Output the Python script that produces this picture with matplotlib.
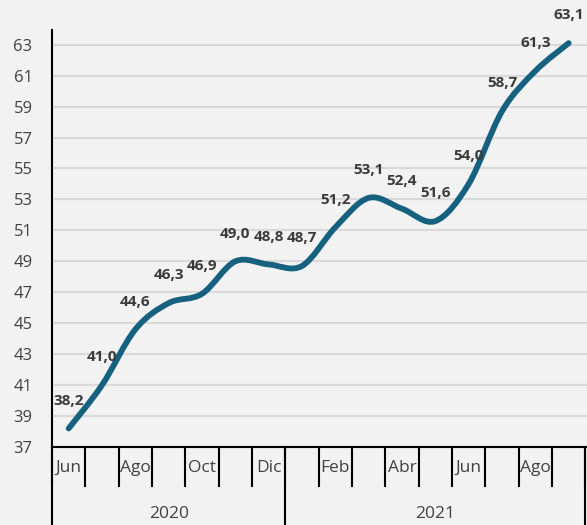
import matplotlib
matplotlib.use("Agg")
import matplotlib.pyplot as plt
import numpy as np
from matplotlib.path import Path
from matplotlib.patches import PathPatch
from matplotlib.lines import Line2D

plt.rcParams['font.family'] = ['Open Sans', 'DejaVu Sans']

# data
months = ['Jun', 'Jul', 'Ago', 'Sep', 'Oct', 'Nov', 'Dic',
          'Ene', 'Feb', 'Mar', 'Abr', 'May', 'Jun', 'Jul', 'Ago', 'Sep']
years = ['2020', '2021']
year_counts = [7, 9]
values = [38.2, 41.0, 44.6, 46.3, 46.9, 49.0, 48.8, 48.7,
          51.2, 53.1, 52.4, 51.6, 54.0, 58.7, 61.3, 63.1]
yticks = list(range(37, 64, 2))

BG = '#f2f2f2'
LINE = '#16617f'
TXT = '#404040'

fig = plt.figure(figsize=(5.87, 5.25), dpi=100, facecolor=BG)
ax = fig.add_axes([52 / 587, 1 - 447 / 525, 1 - 52 / 587, (447 - 30) / 525])
ax.set_facecolor(BG)

n = len(values)
x = np.arange(n)
y = np.array(values)

# smoothed line (bezier, like excel smoothing)
verts = [(x[0], y[0])]
codes = [Path.MOVETO]
for i in range(n - 1):
    p0 = np.array([x[max(i - 1, 0)], y[max(i - 1, 0)]])
    p1 = np.array([x[i], y[i]])
    p2 = np.array([x[i + 1], y[i + 1]])
    p3 = np.array([x[min(i + 2, n - 1)], y[min(i + 2, n - 1)]])
    c1 = p1 + (p2 - p0) / 6
    c2 = p2 - (p3 - p1) / 6
    verts += [tuple(c1), tuple(c2), tuple(p2)]
    codes += [Path.CURVE4] * 3
patch = PathPatch(Path(verts, codes), facecolor='none', edgecolor=LINE,
                  lw=4.2, capstyle='round', joinstyle='round', zorder=3)
ax.add_patch(patch)

for xi, v in zip(x, values):
    ax.annotate(f'{v:.1f}'.replace('.', ','), (xi, v), xytext=(0, 20),
                textcoords='offset points', ha='center', va='center',
                fontsize=11, fontweight='bold', color='#3a3a3a', zorder=4)

ax.set_xlim(-0.5, n - 0.45)
ax.set_ylim(37, 63.95)
ax.set_yticks(yticks)
ax.set_yticklabels([str(t) for t in yticks])
ax.tick_params(axis='y', length=0, pad=14, labelsize=12, labelcolor=TXT)
ax.grid(axis='y', color='#d9d9d9', lw=1.5)
ax.set_axisbelow(True)

ax.set_xticks(np.arange(-0.5, n, 1.0))
ax.set_xticklabels([])
ax.tick_params(axis='x', length=29, width=1.5, color='black', direction='out')

for s in ['top', 'right']:
    ax.spines[s].set_visible(False)
ax.spines['left'].set_linewidth(1.5)
ax.spines['bottom'].set_linewidth(1.5)

trans = ax.get_xaxis_transform()
for i, m in enumerate(months):
    if i % 2 == 0:
        ax.annotate(m, (i, 0), xycoords=trans, xytext=(0, -15),
                    textcoords='offset points', ha='center', va='center',
                    fontsize=12.5, color=TXT)

# year groups and separators
start = -0.5
edges = [start]
for yr, cnt in zip(years, year_counts):
    mid = start + cnt / 2
    ax.annotate(yr, (mid, 0), xycoords=trans, xytext=(0, -48),
                textcoords='offset points', ha='center', va='center',
                fontsize=12.5, color=TXT)
    start += cnt
    edges.append(start)
for e in edges:
    ax.add_line(Line2D([e, e], [0, -(525 - 447) / (447 - 30)], transform=trans,
                       color='black', lw=1.5, clip_on=False))

fig.savefig('out.png', dpi=100, facecolor=BG)
